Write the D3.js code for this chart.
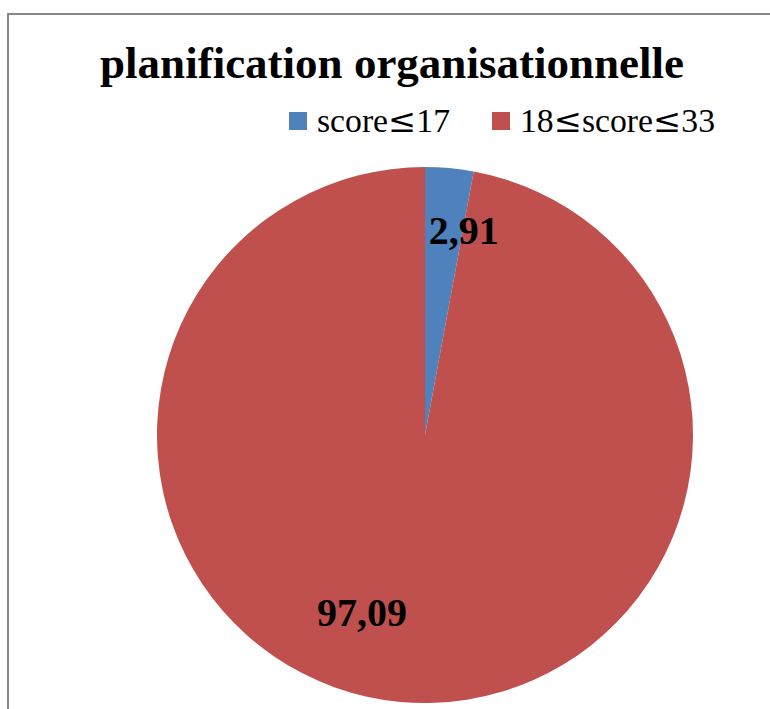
<!DOCTYPE html>
<html lang="fr">
<head>
    <meta charset="UTF-8">
    <title>planification organisationnelle</title>
    <style type="text/css">
        body { margin:0; background:#fff }
        text { font-family: "Liberation Serif", "Times New Roman", serif }
        tspan.le { font-family: "DejaVu Serif", serif }
    </style>
</head>
<body>
<script src="https://d3js.org/d3.v7.min.js"></script>
<script>
    var categories = ['score\u226417', '18\u2264score\u226433'];
    var values = [2.91, 97.09];
    var valueLabels = ['2,91', '97,09'];
    var colors = ['#4F81BD', '#C0504D'];

    var width = 770,
        height = 709,
        cx = 425, cy = 435, radius = 268,
        svg = d3.select('body').append('svg')
                .attr('width', width)
                .attr('height', height);

    // chart frame (right and bottom edges are cut off in the picture)
    svg.append('rect')
        .attr('x', 8).attr('y', 14)
        .attr('width', 800).attr('height', 760)
        .attr('fill', 'none')
        .attr('stroke', '#888')
        .attr('stroke-width', 2);

    svg.append('text')
        .attr('x', 392).attr('y', 78)
        .attr('text-anchor', 'middle')
        .attr('font-size', 45)
        .attr('font-weight', 'bold')
        .text('planification organisationnelle');

    var color = d3.scaleOrdinal().domain(categories).range(colors);

    var pie = d3.pie().sort(null).value(function(d){ return d.value; });
    var data = pie(categories.map(function(c, i){
        return { name: c, value: values[i], label: valueLabels[i] };
    }));

    var arc = d3.arc().innerRadius(0).outerRadius(radius);
    var g = svg.append('g').attr('transform', 'translate(' + cx + ',' + cy + ')');

    g.selectAll('path')
        .data(data)
        .enter()
        .append('path')
        .attr('d', arc)
        .attr('fill', function(d){ return color(d.data.name); });

    // label positions: centroid on a ring, nudged like the original
    var labelArcs = [d3.arc().innerRadius(206).outerRadius(206),
                     d3.arc().innerRadius(186).outerRadius(186)];
    var nudge = [[20, 0], [-46, -8]];

    g.selectAll('text.lbl')
        .data(data)
        .enter()
        .append('text')
        .attr('class', 'lbl')
        .attr('transform', function(d, i){
            var c = labelArcs[i].centroid(d);
            return 'translate(' + (c[0] + nudge[i][0]) + ',' + (c[1] + nudge[i][1]) + ')';
        })
        .attr('text-anchor', 'middle')
        .attr('dy', '0.35em')
        .attr('font-size', 40)
        .attr('font-weight', 'bold')
        .text(function(d){ return d.data.label; });

    // legend
    var legendX = [289, 492];
    var legendW = [133, 195];
    var legend = svg.selectAll('g.legend')
        .data(categories)
        .enter()
        .append('g')
        .attr('class', 'legend')
        .attr('transform', function(d, i){ return 'translate(' + legendX[i] + ',112)'; });

    legend.append('rect')
        .attr('width', 18).attr('height', 18)
        .attr('fill', function(d){ return color(d); });

    var lt = legend.append('text')
        .attr('x', 28).attr('y', 20)
        .attr('font-size', 33)
        .attr('textLength', function(d, i){ return legendW[i]; })
        .attr('lengthAdjust', 'spacingAndGlyphs');

    lt.each(function(d){
        var t = d3.select(this);
        d.split(/(\u2264)/).forEach(function(part){
            if (!part) return;
            t.append('tspan')
                .attr('class', part === '\u2264' ? 'le' : null)
                .text(part);
        });
    });
</script>
</body>
</html>
